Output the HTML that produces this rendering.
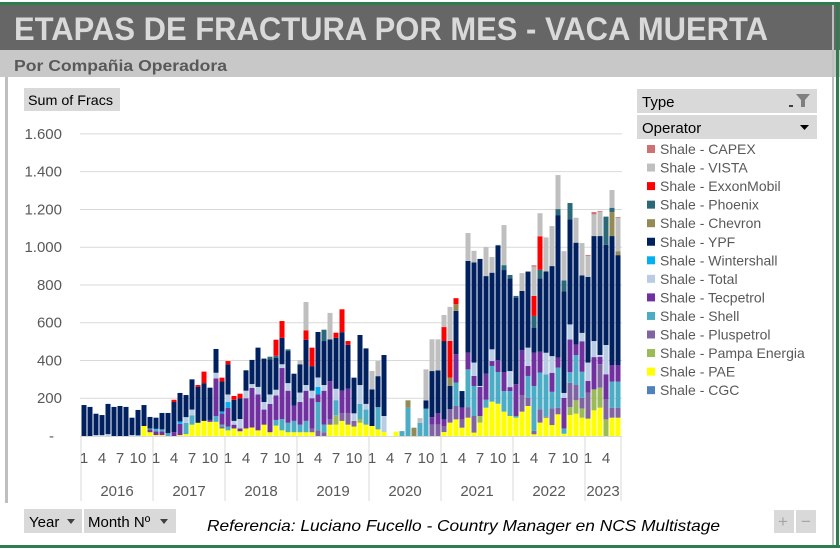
<!DOCTYPE html>
<html><head><meta charset="utf-8"><style>
html,body{margin:0;padding:0;background:#fff;width:840px;height:549px;overflow:hidden}
svg{display:block}
text{font-family:"Liberation Sans",sans-serif}
</style></head><body>
<svg id="s" width="840" height="549" xmlns="http://www.w3.org/2000/svg">
<rect x="0" y="0" width="840" height="549" fill="#fff"/>
<rect x="0" y="2" width="840" height="3" fill="#2e7d4f"/>
<rect x="0" y="5" width="840" height="45" fill="#666666"/>
<text x="14" y="40" font-size="32" font-weight="bold" fill="#d9d9d9" textLength="754" lengthAdjust="spacingAndGlyphs">ETAPAS DE FRACTURA POR MES -  VACA MUERTA</text>
<rect x="0" y="50" width="840" height="27" fill="#c8c8c8"/>
<text x="14" y="71" font-size="16" font-weight="bold" fill="#595959" textLength="213" lengthAdjust="spacingAndGlyphs">Por Compañia Operadora</text>
<rect x="5" y="77" width="3" height="426" fill="#bfbfbf"/>
<rect x="832" y="5" width="2" height="540" fill="#bfbfbf"/>
<rect x="836" y="5" width="3" height="543" fill="#2e7d4f"/>
<rect x="0" y="545" width="840" height="3" fill="#2e7d4f"/>
<rect x="24" y="88" width="96" height="23" fill="#d9d9d9"/>
<text x="28" y="105" font-size="14" fill="#000" textLength="85" lengthAdjust="spacingAndGlyphs">Sum of Fracs</text>
<g id="grid"></g>
<g id="bars"></g>
<g id="axis"></g>
<rect x="637" y="89" width="180" height="24" fill="#d9d9d9"/>
<text x="642" y="107" font-size="15" fill="#000">Type</text>
<path d="M796 94 h14 l-5 6 v7 h-4 v-7 z" fill="#7f7f7f"/><rect x="789" y="105" width="4" height="2" fill="#404040"/>
<rect x="637" y="115" width="180" height="24" fill="#d9d9d9"/>
<text x="642" y="133" font-size="15" fill="#000">Operator</text>
<path d="M800 125 h9 l-4.5 5 z" fill="#000"/>
<g id="leg"></g>
<rect x="24" y="509" width="58" height="24" fill="#d9d9d9"/>
<text x="29" y="527" font-size="15" fill="#000">Year</text>
<path d="M67 519 h8 l-4 5 z" fill="#404040"/>
<rect x="84" y="509" width="92" height="24" fill="#d9d9d9"/>
<text x="88" y="527" font-size="15" fill="#000">Month Nº</text>
<path d="M160 519 h8 l-4 5 z" fill="#404040"/>
<text x="207" y="531" font-size="16" font-style="italic" fill="#000" textLength="513" lengthAdjust="spacingAndGlyphs">Referencia: Luciano Fucello - Country Manager en NCS Multistage</text>
<rect x="774" y="510" width="20" height="23" fill="#d9d9d9"/>
<text x="778" y="527" font-size="17" fill="#a6a6a6">+</text>
<rect x="796" y="510" width="20" height="23" fill="#d9d9d9"/>
<text x="801" y="527" font-size="17" fill="#a6a6a6">−</text>
</svg>
<script>
var C={cgc:"#4f81bd",y:"#ffff00",pa:"#9bbb59",pl:"#8064a2",sh:"#4bacc6",tp:"#7030a0",to:"#b8cce4",wi:"#00b0f0",ypf:"#002060",ch:"#948a54",ph:"#2a6a78",ex:"#ff0000",vi:"#bfbfbf",ca:"#d07070"};
var D=[
"ypf164","ypf154","to5 ypf113","to5 ypf106","to10 ypf160","ypf154","ypf159","ypf154","to5 ypf92","sh5 ypf133","y53 ypf111","y20 tp15 sh5 ypf61",
"y5 tp20 sh8 wi5 ypf59","y5 tp20 sh10 ypf87","sh15 ypf107","tp20 ypf160 ex12","y5 tp60 wi12 ypf151","y10 sh60 to30 ypf117","y60 sh50 to30 ypf160","y70 ypf190 ex10","y80 ypf200 ex61","y75 tp10 ypf171","y75 sh30 tp200 to30 ypf126","y40 pl10 sh10 tp60 wi10 ypf159 ex20",
"y30 sh20 tp100 wi30 to40 ypf160 ex17","y40 tp20 to20 ypf112 ex20","y25 tp15 to50 ypf110 ex24","y40 tp160 to40 ypf108","y45 tp210 to20 ypf128","y30 tp190 to40 ypf208","y60 tp80 to40 ypf230","y20 tp150 to50 ypf185 ph15","y55 sh30 tp130 to30 ypf170 ph10 ex85","y30 sh60 tp270 to20 ypf140 ex89","y20 sh50 tp170 to40 ypf170 ph9","y20 sh60 tp80 ypf170",
"y20 sh40 tp120 to50 ypf150 vi21","y20 sh60 tp160 to30 ypf240 ex50 vi150","y20 pl20 tp160 to40 ypf130 ex98","pl30 sh150 tp40 wi40 to50 ypf241","pl20 sh40 tp180 to30 ypf233 ph60","y60 pl30 tp200 ypf222 vi140","y60 pa50 sh80 to60 ypf270 ex27","y80 pl40 tp120 ypf310 ex121","y60 pl60 tp130 ypf233 ex20","y50 pl30 to40 ypf189","y70 pa20 sh80 to100 ypf265","y60 sh80 to30 ypf294",
"y53 ypf194 vi97","y35 sh118 ypf164 vi80","y21 to85 ypf323","","y23","sh26","sh150 ch39","ch44","sh70 vi25","sh145 ypf44 vi164","pl60 tp40 ypf244 vi168","pl60 tp60 ypf228 vi164",
"y21 pl32 tp35 ypf415 ex74 vi64","y71 pl71 ypf124 ch44 ex194 vi180","y88 pl71 sh124 tp150 ypf230 ch35 ex32","y44 pl44 tp62 ypf88","y97 pl56 sh200 tp88 ypf486 vi148","y18 pl88 sh159 tp53 to71 ypf530 vi62","y71 pa35 tp154 to5 ypf673","y150 sh42 tp138 ypf517 vi154","y182 sh189 tp26 to62 ypf406 vi83","y171 sh168 tp62 ypf606 ph5","y129 sh109 tp101 ypf540 ph26 vi212","y106 sh132 tp21 to85 ypf491 ph18",
"y97 sh9 tp168 ypf459 ph9","y129 pl88 tp238 ypf313 vi95","y159 pl44 sh115 tp53 to97 ypf403","y9 pl18 sh238 tp177 ypf132 ph62 ex106 vi155 ca7","y71 pl71 sh194 tp110 ypf389 ph46 ex177 vi122","y97 pl5 sh224 to115 ypf431 vi180","y58 pl88 sh88 tp101 to88 ypf477 vi212","y115 pl35 sh212 tp53 ypf755 ph32 vi180","y12 sh28 tp162 to26 ypf539 ph57 vi155","y111 pa42 pl129 sh56 tp173 to80 ypf556 ph87","y118 pa71 pl81 sh159 tp56 ypf539 vi132","y97 pa49 pl56 sh138 tp162 to44 ypf305 vi171",
"y92 pl138 tp62 to97 ypf454 vi111 ca5","y136 pa111 tp171 to85 ypf556 vi115 ca12","y150 pa106 pl124 tp40 to9 ypf630 vi129 ca4","pa88 pl106 tp133 to155 ypf530 ph150","y97 pl53 sh138 tp88 ypf683 ch127 ph23 vi94","y97 pl53 sh138 tp88 ypf582 ch21 vi177 ca4"];
var ns="http://www.w3.org/2000/svg";
function el(p,t,a,txt){var e=document.createElementNS(ns,t);for(var k in a)e.setAttribute(k,a[k]);if(txt!=null)e.textContent=txt;document.getElementById(p).appendChild(e);return e;}
var B=436,K=0.1888;
for(var v=200;v<=1600;v+=200){var yy=B-v*K;el("grid","line",{x1:80,x2:622,y1:yy,y2:yy,stroke:"#d9d9d9","stroke-width":1});
el("axis","text",{x:62,y:yy+5,"font-size":15,fill:"#595959","text-anchor":"end"},v>=1000?(v/1000|0)+"."+String(v%1000).padStart(3,"0"):String(v));}
el("axis","text",{x:54,y:B+5,"font-size":15,fill:"#595959","text-anchor":"end"},"-");
el("axis","line",{x1:80,x2:622,y1:B+0.5,y2:B+0.5,stroke:"#d9d9d9"});
D.forEach(function(s,i){var x=81.5+i*6,cy=B;if(!s)return;s.split(" ").forEach(function(p){var m=p.match(/^([a-z]+)(\d+)$/);var h=+m[2]*K;cy-=h;el("bars","rect",{x:x,y:cy,width:5,height:h,fill:C[m[1]]});});});
var yrs=["2016","2017","2018","2019","2020","2021","2022","2023"];
for(var k=0;k<=8;k++){var xx=k<8?81+72*k:621;el("axis","line",{x1:xx,x2:xx,y1:B,y2:501,stroke:"#d9d9d9"});}
yrs.forEach(function(yr,k){var x0=81+72*k,n=k<7?12:6;
[0,3,6,9].forEach(function(m){if(m<n)el("axis","text",{x:x0+m*6+3,y:463,"font-size":15,fill:"#595959","text-anchor":"middle"},String(m+1));});
el("axis","text",{x:x0+n*3,y:496,"font-size":15,fill:"#595959","text-anchor":"middle"},yr);});
var L=[["ca","CAPEX"],["vi","VISTA"],["ex","ExxonMobil"],["ph","Phoenix"],["ch","Chevron"],["ypf","YPF"],["wi","Wintershall"],["to","Total"],["tp","Tecpetrol"],["sh","Shell"],["pl","Pluspetrol"],["pa","Pampa Energia"],["y","PAE"],["cgc","CGC"]];
L.forEach(function(l,i){var yy=149+i*18.55;el("leg","rect",{x:647,y:yy-4,width:8,height:8,fill:C[l[0]]});
el("leg","text",{x:660,y:yy+5,"font-size":14,fill:"#595959"},"Shale - "+l[1]);});
</script>
</body></html>
